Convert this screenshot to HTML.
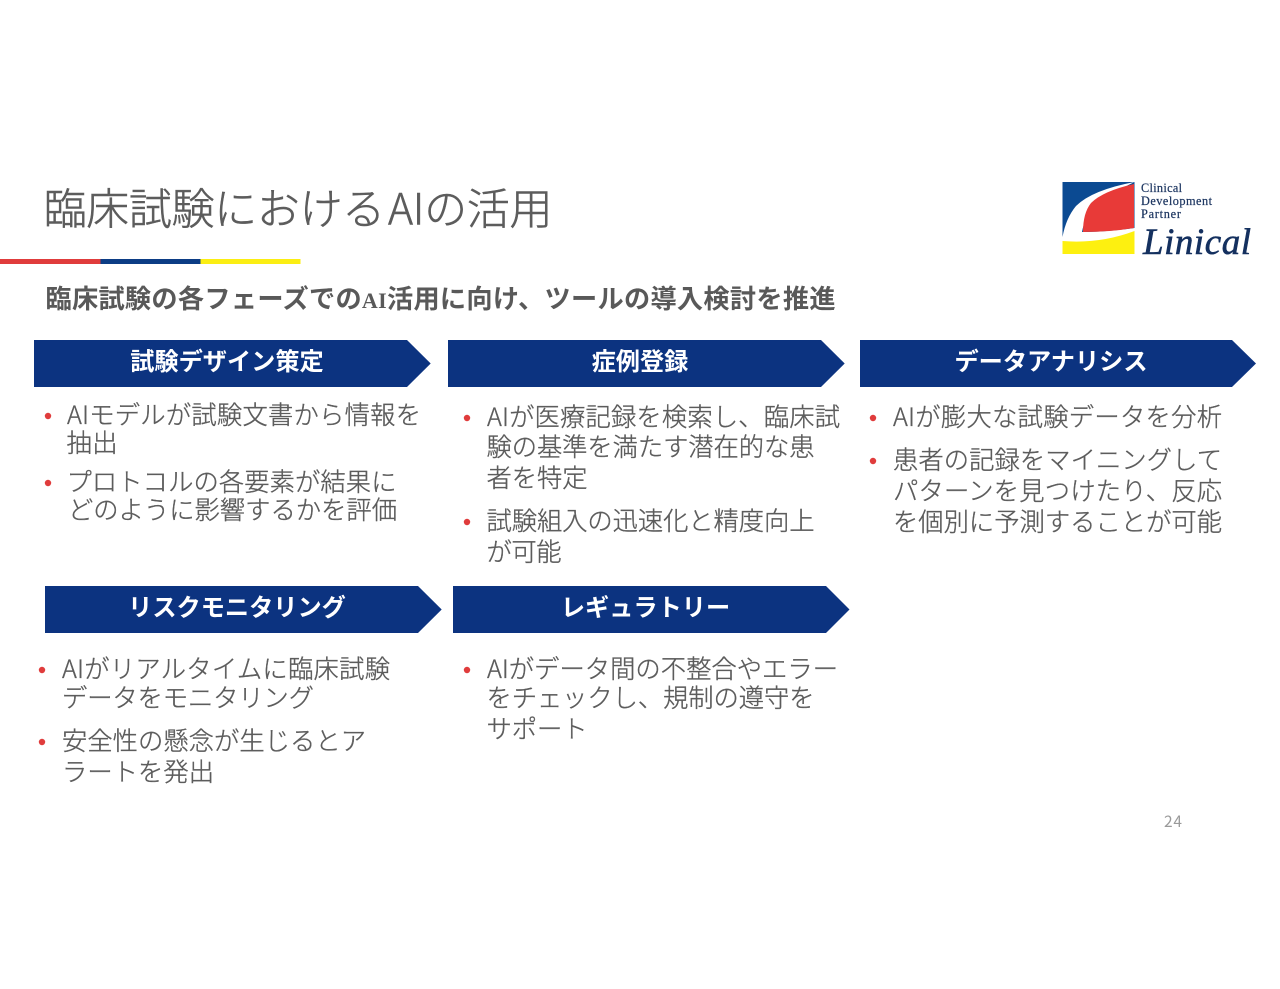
<!DOCTYPE html>
<html lang="ja"><head><meta charset="utf-8"><title>臨床試験におけるAIの活用</title>
<style>
html,body{margin:0;padding:0;background:#fff;width:1280px;height:989px;overflow:hidden}
svg{display:block}
text{font-family:"Noto Sans CJK JP","Liberation Sans",sans-serif}
.b{font-size:25.3px;fill:#5c5c5c;stroke:#5c5c5c;stroke-width:.35;font-weight:300}
.h{font-size:24.2px;fill:#fff;font-weight:700;text-anchor:middle}
.s{font-family:"Liberation Serif",serif}
</style></head><body>
<svg width="1280" height="989" viewBox="0 0 1280 989" xmlns="http://www.w3.org/2000/svg">
<rect width="1280" height="989" fill="#fff"/>
<text x="43.5" y="224.5" font-size="43" fill="#5c5c5c" stroke="#5c5c5c" stroke-width=".5" font-weight="300" textLength="509" lengthAdjust="spacing">臨床試験における<tspan dx="3">AI</tspan>の活用</text>
<rect x="0" y="259" width="100.5" height="5" fill="#e03c3c"/>
<rect x="100.5" y="259" width="100" height="5" fill="#0c3d85"/>
<rect x="200.5" y="259" width="100" height="5" fill="#fbee13"/>
<text x="45.5" y="308" font-size="26.2" fill="#595959" font-weight="700" textLength="790" lengthAdjust="spacing">臨床試験の各フェーズでの<tspan class="s" font-size="22">AI</tspan>活用に向け、ツールの導入検討を推進</text>

<g>
<rect x="1062.5" y="182" width="72" height="72" fill="#0b4a92"/>
<path d="M1062.5 240V254H1134.5V230Q1100 243 1062.5 240Z" fill="#fdf010"/>
<path d="M1134.5 182Q1092 190 1076 206Q1066 218 1062.5 237V241Q1100 244 1134.5 231V228Q1105 232 1082 232Q1086 205 1134.5 182Z" fill="#fff"/>
<path d="M1134 184Q1103 191 1091 203Q1083 213 1083 232Q1110 232 1134 228Z" fill="#e83a38"/>
<text x="1141" y="192" class="s" font-size="12.3" fill="#1c3560" stroke="#1c3560" stroke-width=".2" textLength="41" lengthAdjust="spacing">Clinical</text>
<text x="1141" y="205" class="s" font-size="12.3" fill="#1c3560" stroke="#1c3560" stroke-width=".2" textLength="71" lengthAdjust="spacing">Development</text>
<text x="1141" y="218" class="s" font-size="12.3" fill="#1c3560" stroke="#1c3560" stroke-width=".2" textLength="40" lengthAdjust="spacing">Partner</text>
<text x="1143" y="254" class="s" style="font-style:italic" font-size="37" fill="#14305f" stroke="#14305f" stroke-width=".6" textLength="108" lengthAdjust="spacing">Linical</text>
</g>

<g fill="#0c3380">
<path d="M34 340H407L430.7 363.5L407 387H34Z"/>
<path d="M448 340H821L844.7 363.5L821 387H448Z"/>
<path d="M860 340H1232L1256 363.5L1232 387H860Z"/>
<path d="M45 586H418L441.7 609.5L418 633H45Z"/>
<path d="M453 586H826L849.5 609.5L826 633H453Z"/>
</g>
<text class="h" x="227" y="370">試験デザイン策定</text>
<text class="h" x="640" y="370">症例登録</text>
<text class="h" x="1051" y="370">データアナリシス</text>
<text class="h" x="237" y="616">リスクモニタリング</text>
<text class="h" x="645.5" y="616">レギュラトリー</text>

<g fill="#e03c3c">
<circle cx="48" cy="416" r="3.2"/><circle cx="48" cy="483" r="3.2"/>
<circle cx="467" cy="418" r="3.2"/><circle cx="467" cy="522" r="3.2"/>
<circle cx="873" cy="418" r="3.2"/><circle cx="873" cy="461" r="3.2"/>
<circle cx="42" cy="670" r="3.2"/><circle cx="42" cy="742" r="3.2"/>
<circle cx="467" cy="670" r="3.2"/>
</g>

<text class="b" x="67" y="424" textLength="354" lengthAdjust="spacing">AIモデルが試験文書から情報を</text>
<text class="b" x="66.5" y="452" textLength="51" lengthAdjust="spacing">抽出</text>
<text class="b" x="66.5" y="491" textLength="330" lengthAdjust="spacing">プロトコルの各要素が結果に</text>
<text class="b" x="68" y="519" textLength="329" lengthAdjust="spacing">どのように影響するかを評価</text>

<text class="b" x="487" y="426" textLength="353" lengthAdjust="spacing">AIが医療記録を検索し、臨床試</text>
<text class="b" x="486.5" y="456" textLength="328" lengthAdjust="spacing">験の基準を満たす潜在的な患</text>
<text class="b" x="486.5" y="487" textLength="101" lengthAdjust="spacing">者を特定</text>
<text class="b" x="486.5" y="530" textLength="328" lengthAdjust="spacing">試験組入の迅速化と精度向上</text>
<text class="b" x="486.5" y="561" textLength="75" lengthAdjust="spacing">が可能</text>

<text class="b" x="893" y="426" textLength="329" lengthAdjust="spacing">AIが膨大な試験データを分析</text>
<text class="b" x="893" y="469" textLength="329" lengthAdjust="spacing">患者の記録をマイニングして</text>
<text class="b" x="893" y="500" textLength="329" lengthAdjust="spacing">パターンを見つけたり、反応</text>
<text class="b" x="893" y="531" textLength="329" lengthAdjust="spacing">を個別に予測することが可能</text>

<text class="b" x="62" y="678" textLength="328" lengthAdjust="spacing">AIがリアルタイムに臨床試験</text>
<text class="b" x="62" y="707" textLength="252" lengthAdjust="spacing">データをモニタリング</text>
<text class="b" x="62" y="750" textLength="304" lengthAdjust="spacing">安全性の懸念が生じるとア</text>
<text class="b" x="62" y="781" textLength="152" lengthAdjust="spacing">ラートを発出</text>

<text class="b" x="487" y="678" textLength="351" lengthAdjust="spacing">AIがデータ間の不整合やエラー</text>
<text class="b" x="486.5" y="707" textLength="328" lengthAdjust="spacing">をチェックし、規制の遵守を</text>
<text class="b" x="486.5" y="738" textLength="101" lengthAdjust="spacing">サポート</text>

<text x="1164" y="827" font-size="15.5" fill="#9a9a9a" textLength="18" lengthAdjust="spacing">24</text>
</svg>
</body></html>
